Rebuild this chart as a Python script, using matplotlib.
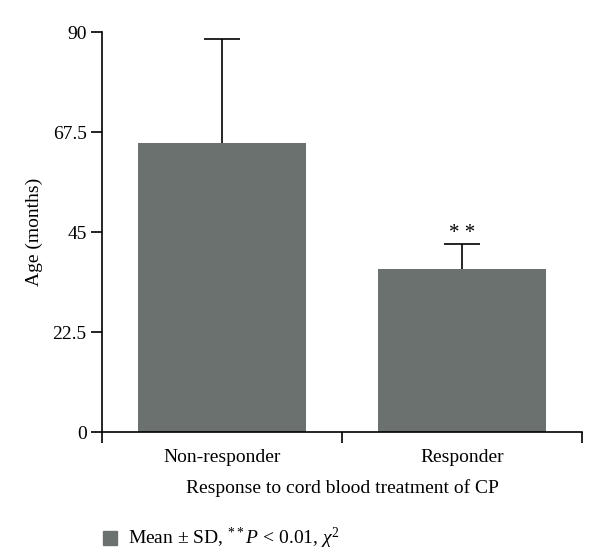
import numpy as np
import matplotlib
matplotlib.use("Agg")
import matplotlib.pyplot as plt

# Valores
categorias = ["Non-responder", "Responder"]
medias = [65.0, 36.7]
desvios = [23.4, 5.6]
yticks = [0, 22.5, 45, 67.5, 90]
ytick_labels = ["0", "22.5", "45", "67.5", "90"]

plt.rcParams['font.family'] = ['Liberation Serif', 'DejaVu Serif']
plt.rcParams['mathtext.fontset'] = 'custom'
plt.rcParams['mathtext.rm'] = 'Liberation Serif'
plt.rcParams['mathtext.it'] = 'Liberation Serif:italic'

cor = "#6b716e"
fs = 14

fig = plt.figure(figsize=(6, 5.57), dpi=100)
ax = fig.add_axes([0.17, 0.2244, 0.80, 0.7181])

x = np.arange(len(categorias))
ax.bar(x, medias, width=0.70, color=cor, zorder=2)
# só a barra de erro superior
_, caps, _ = ax.errorbar(x, medias, yerr=[np.zeros(len(medias)), desvios], fmt='none',
                         ecolor='black', elinewidth=1.2, capsize=13, capthick=1.2, zorder=3)
caps[0].set_visible(False)

ax.text(x[1], medias[1] + desvios[1] + 0.3, "* *", ha='center', va='bottom',
        fontsize=15)

ax.set_xlim(-0.5, len(categorias) - 0.5)
ax.set_ylim(0, 90)
ax.set_yticks(yticks)
ax.set_yticklabels(ytick_labels, fontsize=fs)

# ticks do eixo x nos limites entre categorias
ax.set_xticks([-0.5, 0.5, 1.5])
ax.set_xticklabels([])
ax.set_xticks(x, minor=True)
ax.set_xticklabels(categorias, minor=True, fontsize=fs)
ax.tick_params(axis='x', which='minor', length=0, pad=12)
ax.tick_params(axis='x', which='major', length=8, width=1.2, direction='out')
ax.tick_params(axis='y', length=8, width=1.2, direction='out', pad=3)

for s in ['top', 'right']:
    ax.spines[s].set_visible(False)
for s in ['left', 'bottom']:
    ax.spines[s].set_linewidth(1.2)
ax.spines['left'].set_bounds(0, 90)

ax.set_ylabel("Age (months)", fontsize=fs, labelpad=7)
ax.set_xlabel("Response to cord blood treatment of CP", fontsize=fs, labelpad=10)

# legenda em baixo
fig.patches.append(plt.Rectangle((103 / 600, 1 - 545 / 557), 14 / 600, 14 / 557,
                                  transform=fig.transFigure, color=cor))
fig.text(128 / 600, 1 - 538 / 557,
         r"Mean $\pm$ SD, $^{**}$$P$ < 0.01, $\chi^2$",
         fontsize=fs, va='center', ha='left')

fig.savefig("out.png", dpi=100)
